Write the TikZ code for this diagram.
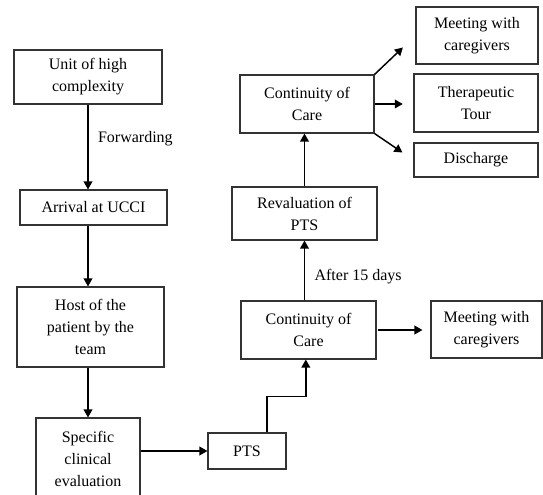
\documentclass[tikz,border=0pt]{standalone}
\usepackage{fontspec}
\setmainfont{Liberation Serif}
\usetikzlibrary{arrows.meta,calc,positioning}
\tikzset{
	box/.style={draw=black!80, line width=0.8pt, align=center, inner sep=2pt,
		font=\fontsize{12pt}{16.5pt}\selectfont},
	arr/.style={draw, line width=1.1pt, -{Triangle[length=6pt,width=6.5pt]}},
	lbl/.style={font=\fontsize{12pt}{16.5pt}\selectfont, inner sep=0pt}
}
\begin{document}
\begin{tikzpicture}[x=0.75pt,y=-0.75pt]
   \clip (0,0) rectangle (543,495);
   % left column
   \node[box, minimum width=111pt, minimum height=40.5pt] (unit) at (88,77) {Unit of high\\complexity};
   \node[box, minimum width=110.25pt, minimum height=26.25pt] (arrival) at (93.5,207.5) {Arrival at UCCI};
   \node[box, minimum width=110.25pt, minimum height=60pt] (host) at (90.5,327) {Host of the\\patient by the\\team};
   \node[box, minimum width=78pt, minimum height=61.5pt] (spec) at (88,459) {Specific\\clinical\\evaluation};
   % middle column
   \node[box, minimum width=58.5pt, minimum height=27pt] (pts) at (247,451) {PTS};
   \node[box, minimum width=101.25pt, minimum height=43.5pt] (cont2) at (308.5,330) {Continuity of\\Care};
   \node[box, minimum width=108.75pt, minimum height=39.75pt] (reval) at (304.5,213.5) {Revaluation of\\PTS};
   \node[box, minimum width=100.5pt, minimum height=43.5pt] (cont1) at (307,104) {Continuity of\\Care};
   % right column
   \node[box, minimum width=83.25pt, minimum height=42.75pt] (meet2) at (486.5,329.5) {Meeting with\\caregivers};
   \node[box, minimum width=91.5pt, minimum height=42.75pt] (meet1) at (477,35.5) {Meeting with\\caregivers};
   \node[box, minimum width=93pt, minimum height=43.5pt] (thera) at (476,103) {Therapeutic\\Tour};
   \node[box, minimum width=93pt, minimum height=25.5pt] (disch) at (476,160) {Discharge};
   % connectors
   \draw[arr] (unit.south) -- node[lbl, right=7pt, pos=0.4] {Forwarding} (unit.south |- arrival.north);
   \draw[arr] (arrival.south -| unit.south) -- (unit.south |- host.north);
   \draw[arr] (host.south -| unit.south) -- (unit.south |- spec.north);
   \draw[arr] (spec.east |- pts.west) -- (pts.west);
   \draw[arr] ([xshift=15pt]pts.north) -- ++(0,-36) -| ([xshift=-2pt]cont2.south);
   \draw[arr] (reval.south |- cont2.north) -- node[lbl, right=7pt, pos=0.4] {After 15 days} (reval.south);
   \draw[arr] (reval.north) -- (reval.north |- cont1.south);
   \draw[arr, shorten >=6pt] ([xshift=1pt]cont2.east) -- (cont2.east -| meet2.west);
   \draw[arr, shorten >=13pt] (cont1.north east) -- (meet1.west);
   \draw[arr, shorten >=8pt] (cont1.east) -- (cont1.east -| thera.west);
   \draw[arr, shorten >=10pt] (cont1.south east) -- (disch.west);
\end{tikzpicture}
\end{document}
